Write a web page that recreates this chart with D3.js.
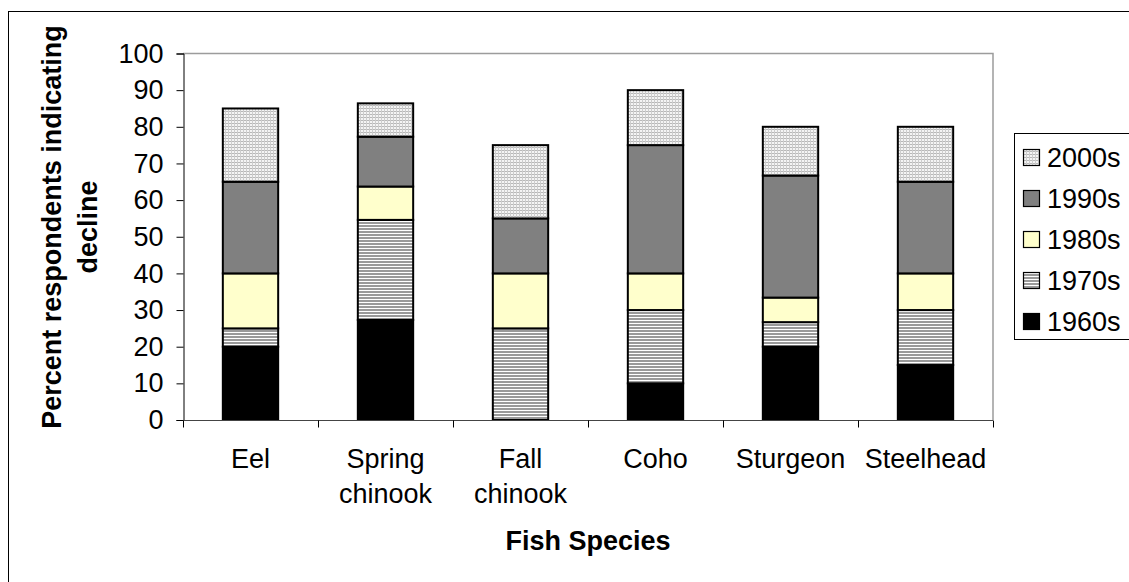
<!DOCTYPE html>
<html>
<head>
<meta charset="utf-8">
<script src="https://cdn.jsdelivr.net/npm/d3@7"></script>
<style>
  body { margin: 0; background: #fff; }
  svg { display: block; font-family: "Liberation Sans", Arial, sans-serif; }
</style>
</head>
<body>
<div class="plot"></div>
<script>
// Data
const species = ["Eel", "Spring chinook", "Fall chinook", "Coho", "Sturgeon", "Steelhead"];
const decades = ["1960s", "1970s", "1980s", "1990s", "2000s"];
const v1960s = [20, 27.3, 0, 10, 20, 15];
const v1970s = [5, 27.3, 25, 20, 6.7, 15];
const v1980s = [15, 9.1, 15, 10, 6.7, 10];
const v1990s = [25, 13.6, 15, 35, 33.3, 25];
const v2000s = [20, 9.1, 20, 15, 13.3, 15];
const yTicks = [0, 10, 20, 30, 40, 50, 60, 70, 80, 90, 100];

const W = 1129, H = 582;
const plot = {left: 183, right: 993, top: 53.5, bottom: 420};
const fontSize = "27px";

const svg = d3.select(".plot")
    .append("svg")
        .attr("width", W)
        .attr("height", H);

// patterns for the hatched series
const defs = svg.append("defs");
const p70 = defs.append("pattern")
    .attr("id", "pat1970")
    .attr("patternUnits", "userSpaceOnUse")
    .attr("width", 3).attr("height", 3);
p70.append("rect").attr("width", 3).attr("height", 3).attr("fill", "#fff");
p70.append("rect").attr("width", 3).attr("height", 2).attr("fill", "#9a9a9a");

const p00 = defs.append("pattern")
    .attr("id", "pat2000")
    .attr("patternUnits", "userSpaceOnUse")
    .attr("width", 3).attr("height", 3);
p00.append("rect").attr("width", 3).attr("height", 3).attr("fill", "#f4f4f4");
p00.append("rect").attr("width", 3).attr("height", 1).attr("fill", "#b8b8b8");
p00.append("rect").attr("width", 1).attr("height", 3).attr("fill", "#cdcdcd");

const fills = {
    "1960s": "#000",
    "1970s": "url(#pat1970)",
    "1980s": "#ffffcc",
    "1990s": "#808080",
    "2000s": "url(#pat2000)"
};

// outer chart border
svg.append("rect")
    .attr("x", 8.5).attr("y", 11.5)
    .attr("width", 1130).attr("height", 580)
    .attr("fill", "none")
    .attr("stroke", "#000");

// table for the stack
const series = {"1960s": v1960s, "1970s": v1970s, "1980s": v1980s, "1990s": v1990s, "2000s": v2000s};
const table = species.map((s, i) => {
    const row = {species: s};
    decades.forEach(d => row[d] = series[d][i]);
    return row;
});
const stacked = d3.stack().keys(decades)(table);

// scales
const x = d3.scaleBand()
    .domain(species)
    .range([plot.left, plot.right])
    .paddingInner(0.59)
    .paddingOuter(0.295);
const y = d3.scaleLinear()
    .domain([0, 100])
    .range([plot.bottom, plot.top]);

// plot area frame (top + right in gray)
svg.append("path")
    .attr("d", `M${plot.left},${plot.top}H${plot.right}V${plot.bottom}`)
    .attr("fill", "none")
    .attr("stroke", "#9c9c9c")
    .attr("stroke-width", 1.5);

// bars
svg.append("g")
    .selectAll("g")
    .data(stacked)
    .enter()
    .append("g")
        .attr("fill", d => fills[d.key])
    .selectAll("rect")
    .data(d => d.filter(p => p[1] - p[0] > 0))
    .enter()
    .append("rect")
        .attr("x", d => x(d.data.species))
        .attr("y", d => y(d[1]))
        .attr("width", x.bandwidth())
        .attr("height", d => y(d[0]) - y(d[1]))
        .attr("stroke", "#000")
        .attr("stroke-width", 2);

// y axis
const yAxis = d3.axisLeft(y)
    .tickValues(yTicks)
    .tickSize(7)
    .tickPadding(13)
    .tickFormat(d3.format("d"));
const gy = svg.append("g")
    .attr("transform", `translate(${plot.left + 0.5},0)`)
    .call(yAxis);
gy.select(".domain").attr("stroke", "#000");
gy.selectAll("text")
    .style("font-size", fontSize)
    .attr("fill", "#000");

// x axis: line plus ticks between categories
const gx = svg.append("g")
    .attr("transform", `translate(0,${plot.bottom + 0.5})`);
gx.append("line")
    .attr("x1", plot.left).attr("x2", plot.right)
    .attr("stroke", "#444");
const step = x.step();
gx.selectAll(".tick")
    .data(d3.range(species.length + 1))
    .enter()
    .append("line")
        .attr("class", "tick")
        .attr("x1", i => plot.left + i * step + 0.5)
        .attr("x2", i => plot.left + i * step + 0.5)
        .attr("y1", 0).attr("y2", 7)
        .attr("stroke", "#000");

const labels = svg.append("g")
    .selectAll("text")
    .data(species)
    .enter()
    .append("text")
        .attr("text-anchor", "middle")
        .style("font-size", fontSize)
        .attr("x", d => x(d) + x.bandwidth() / 2)
        .attr("y", 468);
labels.selectAll("tspan")
    .data(d => d.split(" "))
    .enter()
    .append("tspan")
        .attr("x", function() { return this.parentNode.getAttribute("x"); })
        .attr("dy", (d, i) => i === 0 ? 0 : 35)
        .text(d => d);

// axis titles
svg.append("text")
    .attr("x", (plot.left + plot.right) / 2)
    .attr("y", 550)
    .attr("text-anchor", "middle")
    .style("font-size", fontSize)
    .style("font-weight", "bold")
    .text("Fish Species");

const yTitle = svg.append("text")
    .attr("transform", "translate(61,227) rotate(-90)")
    .attr("text-anchor", "middle")
    .style("font-size", fontSize)
    .style("font-weight", "bold");
yTitle.append("tspan").attr("x", 0).attr("dy", 0).text("Percent respondents indicating");
yTitle.append("tspan").attr("x", 0).attr("dy", 36).text("decline");

// legend
const legend = svg.append("g");
legend.append("rect")
    .attr("x", 1014.5).attr("y", 133.5)
    .attr("width", 130).attr("height", 206)
    .attr("fill", "#fff")
    .attr("stroke", "#000");
const items = legend.selectAll(".item")
    .data(decades.slice().reverse())
    .enter()
    .append("g")
        .attr("class", "item")
        .attr("transform", (d, i) => `translate(1023,${157 + i * 41})`);
items.append("rect")
    .attr("x", 0.5).attr("y", -7.5)
    .attr("width", 16).attr("height", 16)
    .attr("fill", d => fills[d])
    .attr("stroke", "#000")
    .attr("stroke-width", 1.2);
items.append("text")
    .attr("x", 24)
    .attr("dy", "0.36em")
    .style("font-size", fontSize)
    .text(d => d);
</script>
</body>
</html>
